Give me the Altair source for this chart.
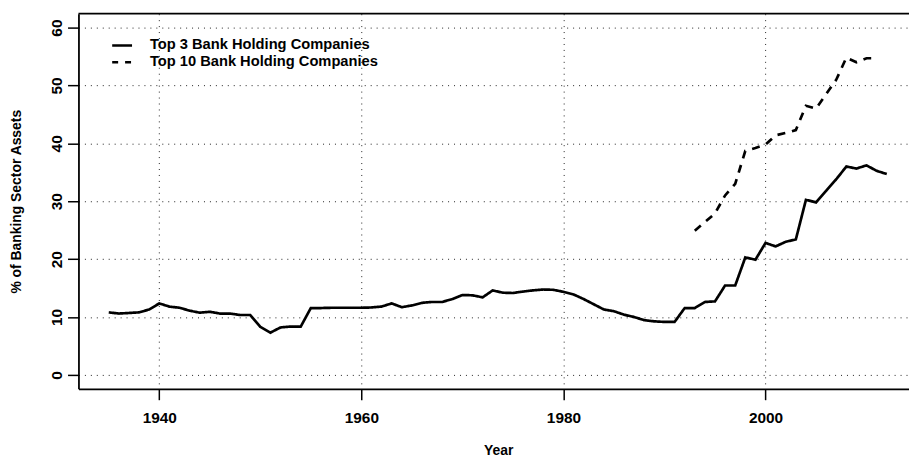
import altair as alt
import pandas as pd

# ---- data ----
YEARS_TOP3 = list(range(1935, 2013))
TOP3 = [10.8, 10.6, 10.7, 10.8, 11.3, 12.35, 11.8, 11.6, 11.1, 10.75,
        10.9, 10.6, 10.6, 10.35, 10.35, 8.3, 7.3, 8.2, 8.35, 8.35,
        11.55, 11.55, 11.6, 11.6, 11.6, 11.6, 11.65, 11.8, 12.35, 11.7,
        12.0, 12.45, 12.6, 12.6, 13.1, 13.8, 13.75, 13.4, 14.6, 14.2,
        14.15, 14.4, 14.6, 14.75, 14.7, 14.35, 13.9, 13.1, 12.2, 11.3,
        11.0, 10.4, 10.0, 9.45, 9.25, 9.15, 9.15, 11.55, 11.55, 12.6,
        12.7, 15.45, 15.45, 20.3, 19.9, 22.8, 22.2, 23.0, 23.4, 30.25,
        29.8, 31.8, 33.8, 36.0, 35.65, 36.2, 35.25, 34.7]
YEARS_TOP10 = list(range(1993, 2012))
TOP10 = [24.9, 26.4, 27.9, 31.0, 33.0, 38.7, 39.2, 39.8, 41.4, 41.8,
         42.3, 46.5, 46.0, 48.5, 51.0, 54.8, 54.0, 54.7, 54.7]
SERIES = ["Top 3 Bank Holding Companies", "Top 10 Bank Holding Companies"]
X_TICKS = [1940, 1960, 1980, 2000]
Y_TICKS = [0, 10, 20, 30, 40, 50, 60]

df = pd.concat([
    pd.DataFrame({"year": YEARS_TOP3, "value": TOP3, "series": SERIES[0]}),
    pd.DataFrame({"year": YEARS_TOP10, "value": TOP10, "series": SERIES[1]}),
], ignore_index=True)

FONT = "Liberation Sans"
W, H = 837, 378

x_enc = alt.X("year:Q",
              scale=alt.Scale(domain=[1932.0, 2014.2], nice=False, zero=False),
              axis=alt.Axis(values=X_TICKS, format="d", title="Year",
                            domain=True, domainColor="black", domainWidth=1.8,
                            tickSize=11, tickWidth=1.5, tickColor="black",
                            labelFont=FONT, labelFontSize=15.5, labelFontWeight="bold",
                            labelColor="black", labelPadding=11,
                            grid=True, gridDash=[1, 5], gridColor="#222", gridWidth=1,
                            titleFont=FONT, titleFontSize=14, titleFontWeight="bold",
                            titleColor="black", titleBaseline="middle",
                            titleX=423, titleY=62))
y_enc = alt.Y("value:Q",
              scale=alt.Scale(domain=[-2.4, 62.4], nice=False, zero=False),
              axis=alt.Axis(values=Y_TICKS, title="% of Banking Sector Assets",
                            domain=True, domainColor="black", domainWidth=1.8,
                            tickSize=11, tickWidth=1.5, tickColor="black",
                            labelFont=FONT, labelFontSize=15.5, labelFontWeight="bold",
                            labelColor="black", labelAngle=270, labelAlign="center",
                            labelBaseline="middle", labelPadding=11,
                            grid=True, gridDash=[1, 5], gridColor="#222", gridWidth=1,
                            titleFont=FONT, titleFontSize=14, titleFontWeight="bold",
                            titleColor="black", titleAngle=270, titleAlign="center",
                            titleBaseline="middle", titleX=-62, titleY=189))

lines = alt.Chart(df).mark_line(color="black", strokeWidth=2.7).encode(
    x=x_enc, y=y_enc,
    strokeDash=alt.StrokeDash("series:N",
                              scale=alt.Scale(domain=SERIES, range=[[1, 0], [8, 7]]),
                              legend=None),
    detail="series:N",
)

top_border = alt.Chart(alt.Data(values=[{}])).mark_rule(color="black", strokeWidth=1.8).encode(
    x=alt.value(0), x2=alt.value(W + 5), y=alt.value(0))

def legend_entry(name, ypix, dash):
    d = alt.Data(values=[{"label": name}])
    rule = alt.Chart(d).mark_rule(color="black", strokeWidth=2.5, strokeDash=dash).encode(
        x=alt.value(34), x2=alt.value(54), y=alt.value(ypix))
    txt = alt.Chart(d).mark_text(align="left", baseline="middle", font=FONT,
                                 fontSize=14.8, fontWeight="bold", color="black").encode(
        x=alt.value(72), y=alt.value(ypix), text="label:N")
    return rule + txt

chart = alt.layer(
    lines,
    top_border,
    legend_entry(SERIES[0], 32, [1, 0]),
    legend_entry(SERIES[1], 49, [6, 7]),
).properties(
    width=W, height=H,
    autosize=alt.AutoSizeParams(type="none"),
    padding={"left": 71, "top": 4, "right": 0, "bottom": 69},
    background="white",
).configure_view(stroke=None)

chart.save("out.html", embed_options={"renderer": "svg", "actions": False})
